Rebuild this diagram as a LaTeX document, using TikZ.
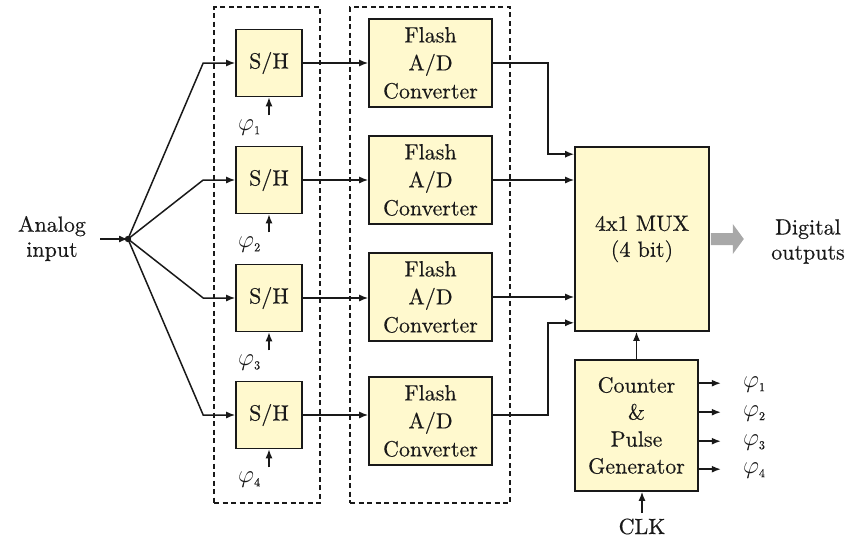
\documentclass[tikz,border=0pt]{standalone}
\usepackage{fontspec}
\setmainfont{lmroman10-regular.otf}[FakeBold=0.3]
\usetikzlibrary{arrows.meta,calc}
\definecolor{boxfill}{RGB}{255,249,206}
\definecolor{ink}{RGB}{25,25,25}
\definecolor{fatgray}{RGB}{168,168,168}
\newcommand{\phisub}[1]{{\fontsize{24}{24}\selectfont$\varphi$}\raisebox{-4pt}{\fontsize{12}{12}\selectfont #1}}
\begin{document}
\begin{tikzpicture}[x=1pt,y=-1pt,
  font=\fontsize{22}{28}\selectfont,
  every node/.style={text=ink},
  blk/.style={draw=ink, fill=boxfill, line width=1.6pt, align=center, inner sep=0pt},
  shbox/.style={blk, minimum width=66pt, minimum height=67pt},
  flbox/.style={blk, minimum width=123pt, minimum height=88pt},
  arr/.style={-{Latex[length=9pt,width=7pt]}, line width=1.5pt, draw=ink},
  grp/.style={draw=ink, line width=1.4pt, dash pattern=on 5pt off 3.5pt, inner sep=0pt},
  lbl/.style={inner sep=0pt, align=center},
  phil/.style={inner sep=0pt, anchor=west}]
\useasboundingbox (0,0) rectangle (845,539);

% dashed groups
\node[grp, minimum width=106pt, minimum height=496pt] (g1) at (267,255) {};
\node[grp, minimum width=160pt, minimum height=496pt] (g2) at (430,255) {};

% S/H blocks
\node[shbox] (sh1) at (269,63) {S/H};
\node[shbox] (sh2) at (269,180) {S/H};
\node[shbox] (sh3) at (269,298) {S/H};
\node[shbox] (sh4) at (269,415) {S/H};

% Flash blocks
\node[flbox] (fl1) at (430.5,63) {Flash\\A/D\\Converter};
\node[flbox] (fl2) at (430.5,180) {Flash\\A/D\\Converter};
\node[flbox] (fl3) at (430.5,297) {Flash\\A/D\\Converter};
\node[flbox] (fl4) at (430.5,421) {Flash\\A/D\\Converter};

% MUX and counter
\node[blk, minimum width=134pt, minimum height=184pt, font=\fontsize{22}{26}\selectfont] (mux) at (642,239) {4x1 MUX\\(4 bit)};
\node[blk, minimum width=123pt, minimum height=131pt, font=\fontsize{22}{27}\selectfont] (cnt) at (636.5,425.5) {Counter\\\&\\Pulse\\Generator};

% input
\node[lbl, font=\fontsize{22}{25}\selectfont] (ain) at (52,238.5) {Analog\\input};
\coordinate (ainstart) at (100,239);
\coordinate (fork) at (128,239);
\draw[arr] (ainstart) -- (fork);
\fill[ink] (fork) circle (3.2pt);

\foreach \i in {1,2,3,4}{
  \draw[arr] (fork) -- ($(sh\i.west)+(-32,0)$) -- (sh\i.west);
  \draw[arr] (sh\i.east) -- (sh\i.east -| fl\i.west);
  \coordinate (ph\i) at ($(sh\i.south)+(0,18)$);
  \draw[arr] (ph\i) -- (sh\i.south);
  \node[phil] (pl\i) at ($(sh\i.south)+(-31,30)$) {\phisub{\i}};
}

% flash -> mux
\draw[arr] (fl1.east) -- ++(55,0) |- ($(mux.north west)+(0,8)$);
\draw[arr] (fl2.east) -- (fl2.east -| mux.west);
\draw[arr] (fl3.east) -- (fl3.east -| mux.west);
\draw[arr] ($(fl4.east)+(0,-6)$) -- ++(55,0) |- ($(mux.south west)+(0,-9)$);

% counter -> mux
\draw[arr] (cnt.north) -- (cnt.north |- mux.south);

% counter outputs
\foreach \i/\dy in {1/24,2/53,3/82,4/110}{
  \coordinate (qs\i) at ($(cnt.north east)+(0,\dy)$);
  \coordinate (qe\i) at ($(qs\i)+(22,0)$);
  \draw[arr] (qs\i) -- (qe\i);
  \node[phil] (ql\i) at ($(qe\i)+(22,1)$) {\phisub{\i}};
}

% CLK
\node[inner sep=0pt, anchor=base] (clk) at (642,534) {CLK};
\coordinate (clks) at (642,513);
\draw[arr] (clks) -- (clks |- cnt.south);

% fat output arrow
\fill[fatgray] ($(mux.east)+(1,-6)$) -- ++(22,0) -- ++(0,-9) -- ++(11,15) -- ++(-11,15) -- ++(0,-9) -- ++(-22,0) -- cycle;
\node[lbl, font=\fontsize{22}{25}\selectfont] (dout) at (808,241.5) {Digital\\outputs};
\end{tikzpicture}
\end{document}
